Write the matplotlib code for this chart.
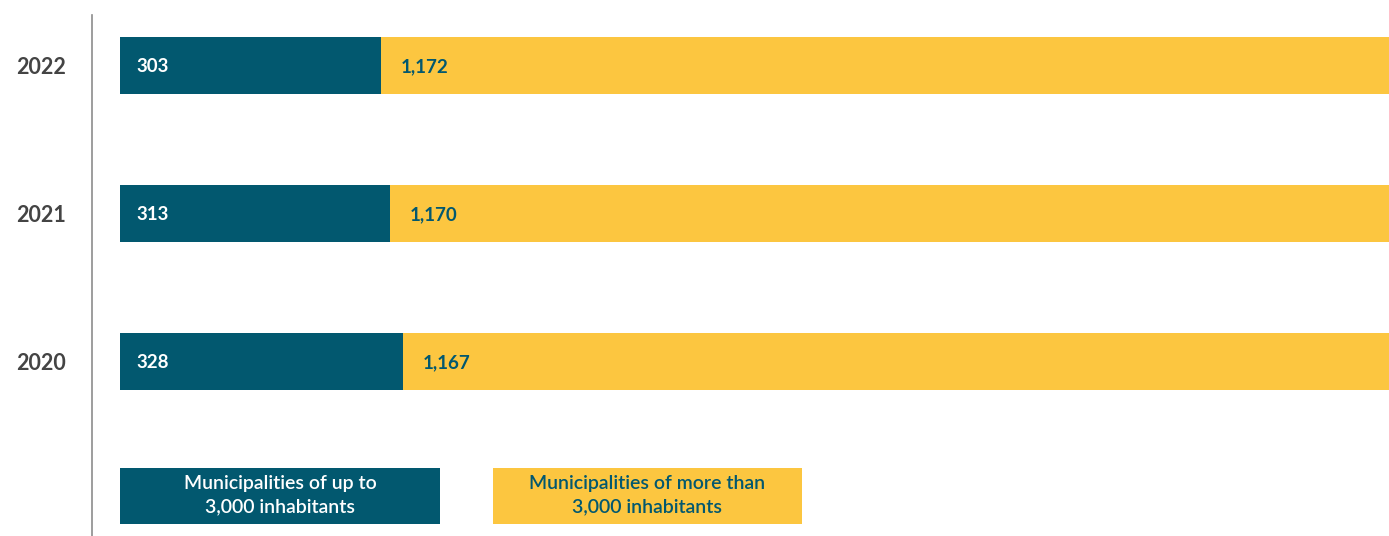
import matplotlib.pyplot as plt
from matplotlib.patches import Rectangle

plt.rcParams['font.family'] = ['Lato', 'DejaVu Sans']

years = ['2020', '2021', '2022']
small_munis = [328, 313, 303]
large_munis = [1167, 1170, 1172]
legend_labels = ['Municipalities of up to\n3,000 inhabitants',
                 'Municipalities of more than\n3,000 inhabitants']

teal = '#02586f'
yellow = '#fcc640'

fig = plt.figure(figsize=(13.89, 5.36), dpi=100)
W, H = 1389, 536
ax = fig.add_axes([92 / W, 0, 1 - 92 / W, (536 - 15) / H])

ypos = list(range(len(years)))
ax.barh(ypos, small_munis, height=0.385, left=0, color=teal)
ax.barh(ypos, large_munis, height=0.385, left=small_munis, color=yellow)

for y, s, l in zip(ypos, small_munis, large_munis):
    ax.annotate(f'{s:,}', (0, y), xytext=(12, -1), textcoords='offset points',
                va='center', ha='left', color='white', fontsize=13.5, fontweight='bold')
    ax.annotate(f'{l:,}', (s, y), xytext=(14, -1), textcoords='offset points',
                va='center', ha='left', color=teal, fontsize=13.5, fontweight='bold')

ax.set_xlim(-32.5, 1472)
ax.set_ylim(-1.179, 2.341)
ax.set_yticks(ypos)
ax.set_yticklabels(years, fontsize=15.5, fontweight='bold', color='#444444')
ax.tick_params(axis='y', length=0, pad=19)
ax.set_xticks([])
for side in ['top', 'right', 'bottom']:
    ax.spines[side].set_visible(False)
ax.spines['left'].set_color('#8c8c8c')
ax.spines['left'].set_linewidth(1.2)

# legend drawn as filled boxes with centred captions
boxes = [(120, 440, teal, 'white'), (493, 802, yellow, teal)]
for (x0, x1, fc, tc), label in zip(boxes, legend_labels):
    fig.add_artist(Rectangle((x0 / W, (536 - 524) / H), (x1 - x0) / W, 56 / H,
                             transform=fig.transFigure, facecolor=fc, edgecolor='none'))
    fig.text((x0 + x1) / 2 / W, (536 - 495) / H, label, ha='center', va='center',
             color=tc, fontsize=14, fontweight='semibold', linespacing=1.45)

fig.savefig('out.png', dpi=100)
